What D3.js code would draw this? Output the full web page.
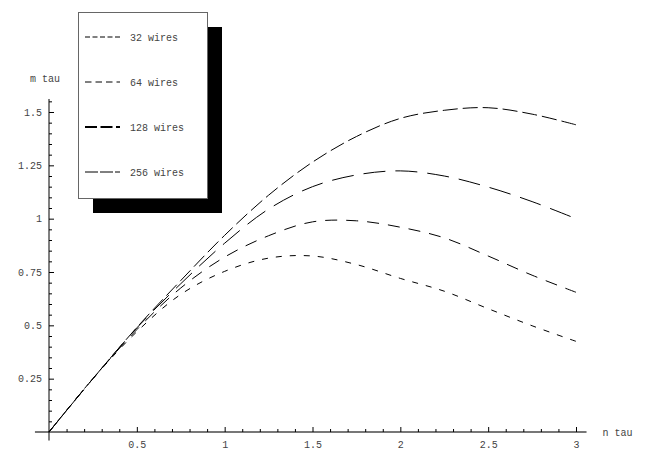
<!DOCTYPE html>
<html>
<head>
<meta charset="utf-8">
<script src="https://cdn.jsdelivr.net/npm/d3@7"></script>
<style>
  html, body { margin: 0; padding: 0; background: #fff; }
  svg { display: block; }
  text { font-family: "Liberation Mono", "DejaVu Sans Mono", monospace; fill: #444; }
</style>
</head>
<body>
<svg id="chart" width="654" height="464"></svg>
<script>
// ---- data ----
const nTau = [0, 0.25, 0.5, 0.75, 1, 1.25, 1.5, 1.75, 2, 2.25, 2.5, 2.75, 3];
const wires32  = [0, 0.25, 0.47, 0.645, 0.753, 0.815, 0.825, 0.785, 0.72, 0.66, 0.578, 0.498, 0.425];
const wires64  = [0, 0.25, 0.48, 0.675, 0.82, 0.92, 0.985, 0.99, 0.96, 0.91, 0.825, 0.735, 0.655];
const wires128 = [0, 0.25, 0.488, 0.695, 0.885, 1.045, 1.15, 1.205, 1.224, 1.2, 1.148, 1.08, 1.0];
const wires256 = [0, 0.25, 0.49, 0.71, 0.922, 1.11, 1.265, 1.385, 1.47, 1.508, 1.52, 1.49, 1.44];
const seriesNames = ["32 wires", "64 wires", "128 wires", "256 wires"];
const xTickLabels = ["0.5", "1", "1.5", "2", "2.5", "3"];
const xTicks = [0.5, 1, 1.5, 2, 2.5, 3];
const yTickLabels = ["0.25", "0.5", "0.75", "1", "1.25", "1.5"];
const yTicks = [0.25, 0.5, 0.75, 1, 1.25, 1.5];
const xLabel = "n tau";
const yLabel = "m tau";

// ---- styles ----
const plotDash   = ["6,8", "12,9", "22,10", "15,5"];
const plotWidth  = [1, 1, 1, 1];
const legendDash = ["5,2.5", "6.5,4", "12,3.5", "13,2"];
const legendWidth = [1, 1, 2, 1];

const svg = d3.select("#chart");
const x = d3.scaleLinear().domain([0, 3]).range([49, 576]);
const y = d3.scaleLinear().domain([0, 1.5]).range([432, 112]);

// minor ticks
const xMinor = d3.range(1, 31).map(i => i / 10).filter(v => Math.abs(v * 2 - Math.round(v * 2)) > 1e-6);
const yMinor = d3.range(1, 32).map(i => i / 20).filter(v => Math.abs(v * 4 - Math.round(v * 4)) > 1e-6);

// axis lines
svg.append("line")
  .attr("x1", x(-0.08)).attr("x2", x(3.06))
  .attr("y1", y(0)).attr("y2", y(0))
  .attr("stroke", "#777").attr("stroke-width", 2);
svg.append("line")
  .attr("x1", x(0)).attr("x2", x(0))
  .attr("y1", y(-0.04)).attr("y2", y(1.561))
  .attr("stroke", "#000").attr("stroke-width", 1);

// x axis
const gx = svg.append("g").attr("transform", `translate(0,${y(0)})`)
  .call(d3.axisBottom(x).tickValues(xTicks).tickFormat((d, i) => xTickLabels[i]).tickSize(-5).tickPadding(9));
gx.select(".domain").remove();
gx.selectAll(".tick line").attr("stroke", "#000");
gx.selectAll("text").attr("font-family", "Liberation Mono, monospace").attr("font-size", 10).attr("fill", "#444");
const gxm = svg.append("g").attr("transform", `translate(0,${y(0)})`)
  .call(d3.axisBottom(x).tickValues(xMinor).tickFormat("").tickSize(-3));
gxm.select(".domain").remove();
gxm.selectAll(".tick line").attr("stroke", "#000");

// y axis
const gy = svg.append("g").attr("transform", `translate(${x(0)},0)`)
  .call(d3.axisLeft(y).tickValues(yTicks).tickFormat((d, i) => yTickLabels[i]).tickSize(-5).tickPadding(7));
gy.select(".domain").remove();
gy.selectAll(".tick line").attr("stroke", "#000");
gy.selectAll("text").attr("font-family", "Liberation Mono, monospace").attr("font-size", 10).attr("fill", "#444");
const gym = svg.append("g").attr("transform", `translate(${x(0)},0)`)
  .call(d3.axisLeft(y).tickValues(yMinor).tickFormat("").tickSize(-3));
gym.select(".domain").remove();
gym.selectAll(".tick line").attr("stroke", "#000");

// axis labels
svg.append("text").attr("x", x(3.06) + 16).attr("y", y(0) + 4)
  .attr("font-size", 10).text(xLabel);
svg.append("text").attr("x", x(0) - 19).attr("y", y(1.561) - 17)
  .attr("font-size", 10).text(yLabel);

// curves
const allSeries = [wires32, wires64, wires128, wires256];
const line = d3.line()
  .x((d, i) => x(nTau[i]))
  .y(d => y(d))
  .curve(d3.curveCatmullRom.alpha(0.5));
allSeries.forEach((s, k) => {
  svg.append("path")
    .attr("d", line(s))
    .attr("fill", "none")
    .attr("stroke", "#000")
    .attr("stroke-width", plotWidth[k])
    .attr("stroke-dasharray", plotDash[k]);
});

// legend
const lg = svg.append("g");
lg.append("rect").attr("x", 93).attr("y", 27).attr("width", 129).attr("height", 186).attr("fill", "#000");
lg.append("rect").attr("x", 78.5).attr("y", 12.5).attr("width", 129).attr("height", 186)
  .attr("fill", "#fff").attr("stroke", "#666").attr("stroke-width", 1);
seriesNames.forEach((name, k) => {
  const cy = 37 + k * 45;
  lg.append("line").attr("x1", 85).attr("x2", 120).attr("y1", cy).attr("y2", cy)
    .attr("stroke", "#000").attr("stroke-width", legendWidth[k])
    .attr("stroke-dasharray", legendDash[k]);
  lg.append("text").attr("x", 130).attr("y", cy + 3.5).attr("font-size", 10).text(name);
});
</script>
</body>
</html>
